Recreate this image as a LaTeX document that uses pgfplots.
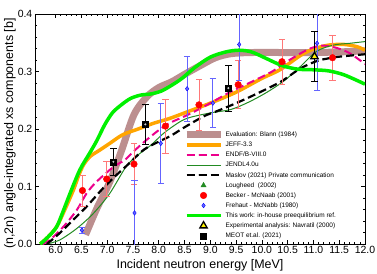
\documentclass[border=0pt]{standalone}
\usepackage{fontspec}
\setmainfont{Liberation Sans}
\usepackage{pgfplots}
\pgfplotsset{compat=1.18}
\definecolor{blann}{RGB}{188,143,143}
\definecolor{jeff}{RGB}{255,165,0}
\definecolor{jendl}{RGB}{34,139,34}
\definecolor{thiswork}{RGB}{0,240,0}
\definecolor{lred}{RGB}{255,120,120}
\definecolor{lblue}{RGB}{100,100,255}
\begin{document}
\begin{tikzpicture}
\begin{axis}[
  scale only axis, width=330bp, height=230bp,
  xmin=5.6, xmax=12.0, ymin=0, ymax=0.4,
  xtick={6,6.5,7,7.5,8,8.5,9,9.5,10,10.5,11,11.5,12},
  ytick={0,0.1,0.2,0.3,0.4},
  minor x tick num=4, minor y tick num=4,
  tick align=inside,
  major tick length=4bp, minor tick length=2bp,
  every tick/.style={black, line width=0.6bp},
  axis line style={line width=0.8bp},
  /pgf/number format/assume math mode=true,
  xticklabel style={font=\fontsize{10.5}{12}\selectfont, anchor=north, inner sep=0pt, yshift=-1.7bp,
    /pgf/number format/.cd, fixed, fixed zerofill, precision=1},
  yticklabel style={font=\fontsize{10.5}{12}\selectfont, anchor=east, inner sep=0pt, xshift=-2.5bp,
    /pgf/number format/.cd, fixed, fixed zerofill, precision=1},
  xlabel={Incident neutron energy [MeV]},
  ylabel={(n,2n) angle-integrated xs components [b]},
  label style={font=\fontsize{12.5}{14}\selectfont},
  xlabel style={at={(axis description cs:0.5,0)}, anchor=center, yshift=-21bp},
  ylabel style={at={(axis description cs:-0.076,0.48)}, anchor=center},
  legend style={at={(0.448,0.496)}, anchor=north west, draw=none, fill=none, inner sep=0pt,
    font=\fontsize{6.5}{7}\selectfont, row sep=0.6bp,
    nodes={inner sep=1.5bp, text height=5bp, text depth=1.5bp}},
  legend cell align=left,
  legend image code/.code={\draw[mark repeat=2,mark phase=2,#1] plot coordinates {(0bp,0bp) (17bp,0bp) (34bp,0bp)};},
]
% Evaluation: Blann (1984)
\addplot[blann, line width=7bp, smooth, tension=0.5] coordinates {
(6.58,0.016)(6.8,0.062)(7.05,0.108)(7.28,0.163)(7.52,0.225)(7.77,0.256)(8.0,0.272)
(8.25,0.282)(8.5,0.295)(8.8,0.31)(9.1,0.324)(9.4,0.331)(9.8,0.333)(10.5,0.333)
(11.0,0.333)(11.5,0.334)(12.0,0.336)};
\addlegendentry{Evaluation: Blann (1984)}
% JEFF-3.3
\addplot[jeff, line width=3.5bp, smooth, tension=0.5] coordinates {
(5.70,0.0)(5.85,0.012)(6.02,0.030)(6.18,0.06)(6.35,0.095)(6.45,0.12)(6.55,0.139)(6.68,0.153)
(6.85,0.163)(7.05,0.175)(7.3,0.19)(7.6,0.2)(7.9,0.21)(8.2,0.218)(8.5,0.228)(9.0,0.245)
(9.5,0.264)(10.0,0.288)(10.35,0.303)(10.75,0.328)(11.0,0.339)(11.3,0.346)(11.6,0.347)
(11.85,0.343)(12.0,0.337)};
\addlegendentry{JEFF-3.3}
% ENDF/B-VIII.0
\addplot[magenta, line width=2bp, dash pattern=on 8bp off 4bp, smooth, tension=0.5] coordinates {
(5.75,0.0)(5.9,0.008)(6.15,0.030)(6.41,0.059)(6.6,0.088)(6.79,0.108)(7.12,0.134)(7.34,0.146)
(7.5,0.16)(7.75,0.18)(8.0,0.198)(8.2,0.21)(8.5,0.222)(8.75,0.233)(9.0,0.245)(9.4,0.265)
(9.8,0.282)(10.2,0.3)(10.5,0.318)(10.8,0.334)(11.0,0.342)(11.2,0.345)(11.45,0.341)
(11.7,0.332)(12.0,0.313)};
\addlegendentry{ENDF/B-VIII.0}
% JENDL4.0u
\addplot[jendl, line width=1bp, smooth, tension=0.5] coordinates {
(5.83,0.0)(6.08,0.007)(6.41,0.027)(6.73,0.053)(7.05,0.088)(7.37,0.135)(7.6,0.155)(7.85,0.172)
(8.1,0.193)(8.4,0.212)(8.6,0.22)(9.0,0.228)(9.4,0.234)(9.75,0.247)(10.1,0.264)(10.42,0.283)
(10.74,0.308)(11.06,0.335)(11.39,0.346)(11.7,0.349)(12.0,0.352)};
\addlegendentry{JENDL4.0u}
% Maslov (2021)
\addplot[black, line width=2.2bp, dash pattern=on 8bp off 4bp, smooth, tension=0.5] coordinates {
(5.83,0.0)(6.08,0.019)(6.34,0.042)(6.6,0.065)(6.92,0.097)(7.18,0.12)(7.4,0.138)(7.71,0.164)
(8.0,0.178)(8.23,0.188)(8.5,0.203)(8.87,0.222)(9.1,0.23)(9.45,0.243)(9.75,0.255)(10.1,0.27)
(10.4,0.284)(10.74,0.305)(11.06,0.318)(11.3,0.323)(11.52,0.326)(12.0,0.330)};
\addlegendentry{Maslov (2021) Private communication}
% Lougheed (2002)
\addlegendimage{only marks, mark=triangle*, mark size=3bp, color=jendl}
\addlegendentry{Lougheed\ \ (2002)}
% Becker - McNaab (2001)
\addplot[only marks, mark=*, mark size=3.3bp, color=red,
  error bars/.cd, y dir=both, y explicit,
  error bar style={color=lred, line width=0.8bp},
  error mark options={rotate=90, mark size=3.2bp, color=lred, line width=0.8bp}]
  table[x=x, y=y, y error=e] {
x y e
6.52 0.093 0.027
6.99 0.113 0.031
7.52 0.139 0.036
8.13 0.205 0.047
8.78 0.242 0.045
9.54 0.277 0.042
10.39 0.317 0.039
11.37 0.324 0.039
};
\addlegendentry{Becker - McNaab (2001)}
% Frehaut - McNabb (1980)
\addplot[only marks, mark=diamond*, mark size=2.3bp, color=blue, mark options={fill=lblue},
  error bars/.cd, y dir=both, y explicit,
  error bar style={color=lblue, line width=0.8bp},
  error mark options={rotate=90, mark size=3.2bp, color=lblue, line width=0.8bp}]
  table[x=x, y=y, y error=e] {
x y e
6.51 0.024 0.005
7.53 0.054 0.056
8.04 0.175 0.069
8.55 0.270 0.056
9.05 0.245 0.043
9.56 0.347 0.062
11.07 0.349 0.081
};
\addlegendentry{Frehaut - McNabb (1980)}
% This work
\addplot[thiswork, line width=3.5bp, smooth, tension=0.5] coordinates {
(5.70,0.0)(5.85,0.012)(6.02,0.030)(6.15,0.058)(6.28,0.088)(6.47,0.129)(6.66,0.158)(6.8,0.18)
(6.95,0.207)(7.1,0.228)(7.26,0.241)(7.45,0.253)(7.65,0.259)(7.85,0.261)(8.05,0.266)
(8.25,0.276)(8.45,0.288)(8.7,0.307)(9.0,0.325)(9.3,0.334)(9.55,0.337)(9.8,0.334)(10.1,0.322)
(10.4,0.31)(10.7,0.304)(11.0,0.303)(11.3,0.301)(11.6,0.294)(12.0,0.278)};
\addlegendentry{This work: in-house preequilibrium ref.}
% Navratil (2000)
\addplot[only marks, mark=triangle*, mark size=4.2bp, mark options={fill=yellow, draw=black, line width=1.3bp},
  error bars/.cd, y dir=both, y explicit,
  error bar style={color=black, line width=0.9bp},
  error mark options={rotate=90, mark size=3.2bp, color=black, line width=0.9bp}]
  table[x=x, y=y, y error=e] {
x y e
11.02 0.326 0.044
};
\addlegendentry{Experimental analysis: Navratil (2000)}
% MEOT et al. (2021)
\addplot[only marks, mark=square*, mark size=3bp, color=black,
  error bars/.cd, y dir=both, y explicit,
  error bar style={color=black, line width=0.9bp},
  error mark options={rotate=90, mark size=3.2bp, color=black, line width=0.9bp}]
  table[x=x, y=y, y error=e] {
x y e
7.12 0.143 0.023
7.74 0.208 0.035
9.35 0.271 0.040
};
\addlegendentry{MEOT et.al. (2021)}
\addplot[forget plot, only marks, mark=*, mark size=0.8bp, color=gray!40] coordinates {
(7.12,0.143)(7.74,0.208)(9.35,0.271)};
\end{axis}
\pgfresetboundingbox
\path[use as bounding box] ([shift={(-35bp,-29bp)}]current axis.south west) rectangle ([shift={(12bp,14bp)}]current axis.north east);
\end{tikzpicture}
\end{document}
